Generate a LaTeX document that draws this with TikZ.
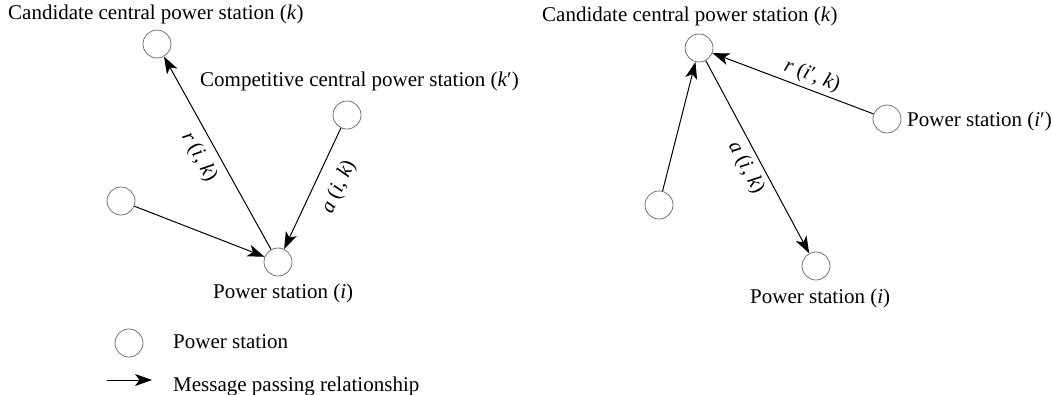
\documentclass[tikz,border=0pt]{standalone}
\usepackage{fontspec}
\setmainfont{Liberation Serif}
\usetikzlibrary{arrows.meta}
\begin{document}
\begin{tikzpicture}[x=1pt,y=-1pt,
  every node/.style={font=\fontsize{21}{25}\selectfont},
  station/.style={circle,draw=black!55,line width=0.8pt,minimum size=28pt,inner sep=0pt},
  msg/.style={line width=1pt,-{Stealth[length=17pt,width=12pt,inset=4.5pt]}},
  txt/.style={inner sep=0pt,anchor=base west},
  lbl/.style={inner sep=0pt}]
\useasboundingbox (0,0) rectangle (1053,394);
% ---------- left diagram ----------
\node[station] (Lk)  at (157,44)  {};
\node[station] (Lkp) at (347,115) {};
\node[station] (Lo)  at (121,201) {};
\node[station] (Li)  at (278,262) {};
\node[txt] (tLk)  at (8,19)   {Candidate central power station (\textit{k})};
\node[txt] (tLkp) at (200,86) {Competitive central power station (\textit{k}′)};
\node[txt] (tLi)  at (213,298) {Power station (\textit{i})};
\draw[msg] (Li) -- (Lk);
\draw[msg] (Lkp) -- (Li);
\draw[msg] (Lo) -- (Li);
\node[lbl,rotate=-61] (rL) at (199,157) {\textit{r} (\textit{i}, \textit{k})};
\node[lbl,rotate=65]  (aL) at (339,187) {\textit{a} (\textit{i}, \textit{k})};
% ---------- right diagram ----------
\node[station] (Rk)  at (699,48)  {};
\node[station] (Rip) at (887,119) {};
\node[station] (Ro)  at (659,205) {};
\node[station] (Ri)  at (816,266) {};
\node[txt] (tRk)  at (542,21)  {Candidate central power station (\textit{k})};
\node[txt] (tRip) at (907,126) {Power station (\textit{i}′)};
\node[txt] (tRi)  at (750,303) {Power station (\textit{i})};
\draw[msg] (Ro) -- (Rk);
\draw[msg] (Rk) -- (Ri);
\draw[msg] (Rip) -- (Rk);
\node[lbl,rotate=-62]   (aR) at (746,168) {\textit{a} (\textit{i}, \textit{k})};
\node[lbl,rotate=-20.7] (rR) at (812,76)  {\textit{r} (\textit{i}′, \textit{k})};
% ---------- legend ----------
\node[station] (leg) at (129,343) {};
\node[txt] (tleg) at (173,348) {Power station};
\coordinate (a1) at (107,380);
\coordinate (a2) at (152,380);
\draw[msg] (a1) -- (a2);
\node[txt] (tmsg) at (173,391) {Message passing relationship};
\end{tikzpicture}
\end{document}
